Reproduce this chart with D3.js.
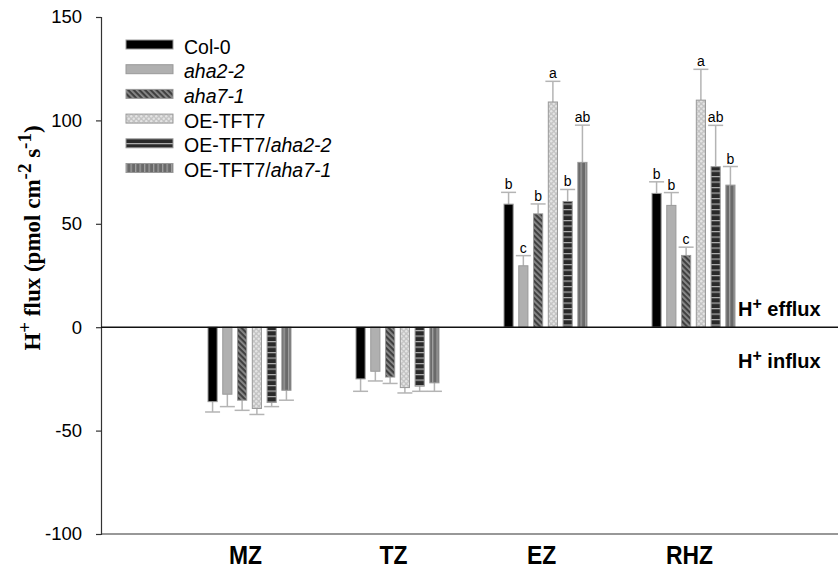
<!DOCTYPE html>
<html>
<head>
<meta charset="utf-8">
<script src="https://cdn.jsdelivr.net/npm/d3@7"></script>
<style>
  html, body { margin: 0; padding: 0; background: #fff; }
  svg { display: block; }
</style>
</head>
<body>
<svg id="chart" width="838" height="570"></svg>
<script>
// ---------------- data ----------------
const categories = ["MZ", "TZ", "EZ", "RHZ"];
const seriesNames = ["Col-0", "aha2-2", "aha7-1", "OE-TFT7", "OE-TFT7/aha2-2", "OE-TFT7/aha7-1"];
const col0     = [-36.0, -25.0, 59.5, 64.7];
const aha22    = [-32.4, -21.3, 29.7, 58.9];
const aha71    = [-35.3, -24.1, 54.8, 34.7];
const oeTft7   = [-39.3, -29.2, 108.9, 109.8];
const oeAha22  = [-36.4, -28.5, 60.8, 77.6];
const oeAha71  = [-30.5, -26.9, 79.7, 68.7];
const errCol0    = [5.0, 6.0, 5.7, 5.6];
const errAha22   = [6.0, 4.7, 4.9, 6.2];
const errAha71   = [4.9, 3.1, 4.8, 4.0];
const errOeTft7  = [2.9, 2.6, 10.0, 14.9];
const errOeAha22 = [2.0, 2.5, 5.8, 20.0];
const errOeAha71 = [4.8, 4.1, 18.0, 9.0];
const lettersEZ  = ["b", "c", "b", "a", "b", "ab"];
const lettersRHZ = ["b", "b", "c", "a", "ab", "b"];
const yTicks = [-100, -50, 0, 50, 100, 150];

const values = [col0, aha22, aha71, oeTft7, oeAha22, oeAha71];
const errors = [errCol0, errAha22, errAha71, errOeTft7, errOeAha22, errOeAha71];
const letters = { "EZ": lettersEZ, "RHZ": lettersRHZ };

// ---------------- layout ----------------
const svg = d3.select("#chart");
const axisX = 101, rightX = 838;
const y = d3.scaleLinear().domain([-100, 150]).range([534, 17]);
const x0 = d3.scaleBand().domain(categories).range([175.5, 767.5]);
const x1 = d3.scaleBand().domain(seriesNames).range([0, 83]).paddingInner(0.38);

// ---------------- patterns ----------------
const defs = svg.append("defs");
let p = defs.append("pattern").attr("id", "pDiag").attr("patternUnits", "userSpaceOnUse")
  .attr("width", 4).attr("height", 4).attr("patternTransform", "rotate(-45)");
p.append("rect").attr("width", 4).attr("height", 4).attr("fill", "#404040");
p.append("rect").attr("x", 0).attr("width", 1.8).attr("height", 4).attr("fill", "#8c8c8c");
p = defs.append("pattern").attr("id", "pCross").attr("patternUnits", "userSpaceOnUse")
  .attr("width", 5).attr("height", 5);
p.append("rect").attr("width", 5).attr("height", 5).attr("fill", "#c4c4c4");
p.append("circle").attr("cx", 1.25).attr("cy", 1.25).attr("r", 1.2).attr("fill", "#e4e4e4");
p.append("circle").attr("cx", 3.75).attr("cy", 3.75).attr("r", 1.2).attr("fill", "#e4e4e4");
p = defs.append("pattern").attr("id", "pHoriz").attr("patternUnits", "userSpaceOnUse")
  .attr("width", 6).attr("height", 5.5);
p.append("rect").attr("width", 6).attr("height", 5.5).attr("fill", "#2a2a2a");
p.append("rect").attr("y", 0).attr("width", 6).attr("height", 1.2).attr("fill", "#b0b0b0");
p = defs.append("pattern").attr("id", "pVert").attr("patternUnits", "userSpaceOnUse")
  .attr("width", 4.5).attr("height", 6);
p.append("rect").attr("width", 4.5).attr("height", 6).attr("fill", "#6a6a6a");
p.append("rect").attr("x", 0).attr("width", 1.3).attr("height", 6).attr("fill", "#a0a0a0");

const fills = ["#000000", "#b0b0b0", "url(#pDiag)", "url(#pCross)", "url(#pHoriz)", "url(#pVert)"];

// ---------------- axes ----------------
const yAxis = d3.axisLeft(y).tickValues(yTicks).tickSize(5).tickPadding(14).tickFormat(d => String(d));
const gy = svg.append("g").attr("transform", `translate(${axisX},0)`).call(yAxis);
gy.select(".domain").attr("stroke", "#333").attr("stroke-width", 1.2);
gy.selectAll(".tick line").attr("stroke", "#333").attr("stroke-width", 1.2);
gy.selectAll(".tick text").attr("font-family", "Arial, 'Liberation Sans', sans-serif")
  .attr("font-size", 18.5).attr("fill", "#000");

svg.append("line").attr("x1", axisX).attr("x2", rightX).attr("y1", y(-100)).attr("y2", y(-100))
  .attr("stroke", "#333").attr("stroke-width", 1.2);

// ---------------- bars ----------------
const flat = [];
categories.forEach((c, ci) => {
  seriesNames.forEach((s, si) => {
    flat.push({ cat: c, ser: s, si, v: values[si][ci], e: errors[si][ci],
      letter: letters[c] ? letters[c][si] : null });
  });
});
const cx = d => x0(d.cat) + x0.bandwidth() / 2 - 41.5 + x1(d.ser);

const eg = svg.append("g");
flat.forEach(d => {
  const mid = cx(d) + x1.bandwidth() / 2;
  const end = d.v >= 0 ? d.v + d.e : d.v - d.e;
  eg.append("line").attr("x1", mid).attr("x2", mid).attr("y1", y(d.v)).attr("y2", y(end))
    .attr("stroke", "#b4b4b4").attr("stroke-width", 1.5);
  eg.append("line").attr("x1", mid - 7.5).attr("x2", mid + 7.5).attr("y1", y(end)).attr("y2", y(end))
    .attr("stroke", "#b4b4b4").attr("stroke-width", 1.5);
});

svg.append("g").selectAll("rect").data(flat).join("rect")
  .attr("x", d => cx(d))
  .attr("y", d => y(Math.max(0, d.v)))
  .attr("width", x1.bandwidth())
  .attr("height", d => Math.abs(y(d.v) - y(0)))
  .attr("fill", d => fills[d.si])
  .attr("stroke", "#999")
  .attr("stroke-width", 1);

svg.append("g").selectAll("text").data(flat.filter(d => d.letter)).join("text")
  .attr("x", d => cx(d) + x1.bandwidth() / 2)
  .attr("y", d => y(d.v + d.e) - 3)
  .attr("text-anchor", "middle")
  .attr("font-family", "Arial, 'Liberation Sans', sans-serif")
  .attr("font-size", 14)
  .attr("fill", "#000")
  .text(d => d.letter);

svg.append("line").attr("x1", axisX).attr("x2", rightX).attr("y1", y(0)).attr("y2", y(0))
  .attr("stroke", "#111").attr("stroke-width", 1.5);

// ---------------- category labels ----------------
svg.append("g").selectAll("text").data(categories).join("text")
  .attr("transform", d => `translate(${x0(d) + x0.bandwidth() / 2 - 4},564) scale(0.88,1)`)
  .attr("text-anchor", "middle")
  .attr("font-family", "Arial, 'Liberation Sans', sans-serif")
  .attr("font-weight", "bold")
  .attr("font-size", 26)
  .attr("fill", "#000")
  .text(d => d);

// ---------------- efflux / influx labels ----------------
function hLabel(yy, word) {
  const t = svg.append("text").attr("x", 738).attr("y", yy)
    .attr("font-family", "Arial, 'Liberation Sans', sans-serif")
    .attr("font-weight", "bold").attr("font-size", 20).attr("fill", "#000");
  t.append("tspan").text("H");
  t.append("tspan").attr("dy", -7).attr("font-size", 16).text("+");
  t.append("tspan").attr("dy", 7).text(" " + word);
}
hLabel(316, "efflux");
hLabel(368, "influx");

// ---------------- y title ----------------
const yt = svg.append("text")
  .attr("transform", "translate(40,238) rotate(-90)")
  .attr("text-anchor", "middle")
  .attr("font-family", "'Times New Roman', 'Liberation Serif', serif")
  .attr("font-weight", "bold").attr("font-size", 23).attr("fill", "#000");
yt.append("tspan").text("H");
yt.append("tspan").attr("dy", -9).attr("font-size", 19).text("+");
yt.append("tspan").attr("dy", 9).text(" flux (pmol cm");
yt.append("tspan").attr("dy", -9).attr("font-size", 19).text("-2");
yt.append("tspan").attr("dy", 9).text(" s");
yt.append("tspan").attr("dy", -9).attr("font-size", 19).text("-1");
yt.append("tspan").attr("dy", 9).text(")");

// ---------------- legend ----------------
const legendItems = [
  [["Col-0", false]],
  [["aha2-2", true]],
  [["aha7-1", true]],
  [["OE-TFT7", false]],
  [["OE-TFT7/", false], ["aha2-2", true]],
  [["OE-TFT7/", false], ["aha7-1", true]]
];
const lg = svg.append("g");
legendItems.forEach((parts, i) => {
  const top = 40 + i * 24.7;
  lg.append("rect").attr("x", 126).attr("y", top).attr("width", 47).attr("height", 9)
    .attr("fill", fills[i]).attr("stroke", "#999").attr("stroke-width", 1);
  const t = lg.append("text").attr("x", 184).attr("y", top + 13.5)
    .attr("font-family", "Arial, 'Liberation Sans', sans-serif")
    .attr("font-size", 19.5).attr("fill", "#000");
  parts.forEach(([txt, it]) => {
    t.append("tspan").attr("font-style", it ? "italic" : "normal").text(txt);
  });
});
</script>
</body>
</html>
